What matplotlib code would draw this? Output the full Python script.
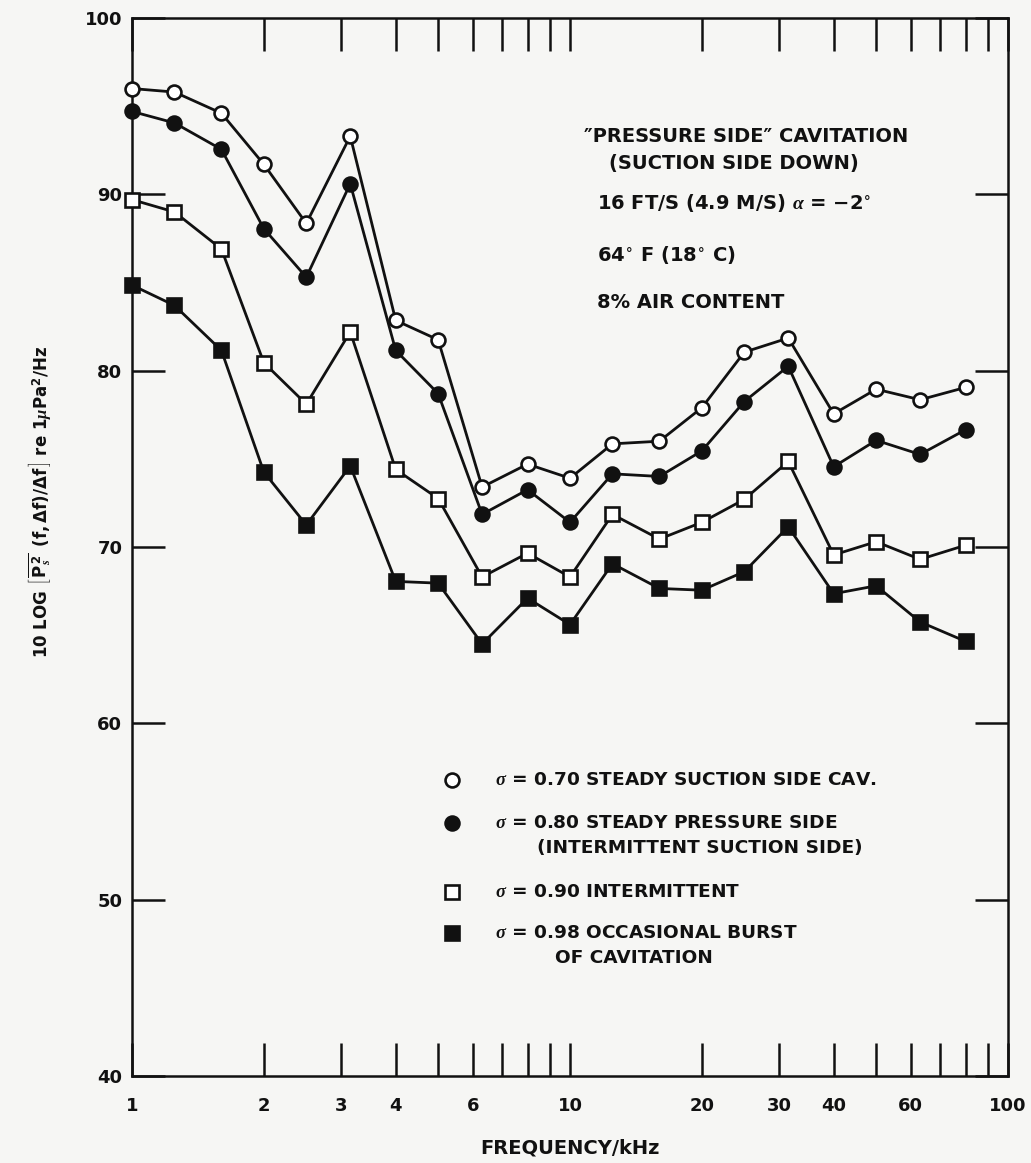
import matplotlib
matplotlib.use("Agg")
import matplotlib.pyplot as plt
from matplotlib.lines import Line2D
from matplotlib.ticker import FixedLocator, FixedFormatter, NullFormatter

# One-third-octave band centre frequencies (kHz)
freq_khz = [1, 1.25, 1.6, 2, 2.5, 3.15, 4, 5, 6.3, 8, 10, 12.5, 16, 20, 25,
            31.5, 40, 50, 63, 80]

# Spectrum level, dB re 1 uPa^2/Hz, for each cavitation number
sigma_070 = [96.0, 95.8, 94.6, 91.7, 88.35, 93.3, 82.85, 81.75, 73.4, 74.7,
             73.9, 75.85, 76.0, 77.9, 81.05, 81.85, 77.55, 78.95, 78.35, 79.05]
sigma_080 = [94.7, 94.05, 92.55, 88.05, 85.3, 90.6, 81.15, 78.7, 71.85, 73.25,
             71.4, 74.15, 74.0, 75.45, 78.25, 80.25, 74.55, 76.05, 75.25, 76.65]
sigma_090 = [89.7, 89.0, 86.9, 80.45, 78.1, 82.2, 74.4, 72.75, 68.3, 69.65,
             68.3, 71.85, 70.45, 71.4, 72.7, 74.85, 69.55, 70.3, 69.3, 70.1]
sigma_098 = [84.85, 83.7, 81.15, 74.25, 71.25, 74.6, 68.05, 67.95, 64.5, 67.1,
             65.6, 69.05, 67.65, 67.55, 68.6, 71.15, 67.35, 67.8, 65.75, 64.65]

legend_labels = [
    r"$\sigma$ = 0.70 STEADY SUCTION SIDE CAV.",
    r"$\sigma$ = 0.80 STEADY PRESSURE SIDE",
    r"$\sigma$ = 0.90 INTERMITTENT",
    r"$\sigma$ = 0.98 OCCASIONAL BURST",
]
legend_second_lines = ["", "(INTERMITTENT SUCTION SIDE)", "", "OF CAVITATION"]

x_major = [1, 2, 3, 4, 6, 10, 20, 30, 40, 60, 100]
x_major_labels = ["1", "2", "3", "4", "6", "10", "20", "30", "40", "60", "100"]
x_minor = [5, 7, 8, 9, 50, 70, 80, 90]
y_ticks = [40, 50, 60, 70, 80, 90, 100]

plt.rcParams["font.family"] = ["DejaVu Sans"]
plt.rcParams["font.weight"] = "bold"
plt.rcParams["mathtext.fontset"] = "custom"
plt.rcParams["mathtext.rm"] = "DejaVu Sans:bold"
plt.rcParams["mathtext.bf"] = "DejaVu Sans:bold"
plt.rcParams["mathtext.it"] = "Liberation Serif:italic"
plt.rcParams["mathtext.sf"] = "DejaVu Sans:bold"

FS_TICK = 13
FS_NOTE = 14
FS_KEY = 13.3
W, H = 1031, 1163
BG = "#f6f6f4"
INK = "#111111"
fig = plt.figure(figsize=(W / 100, H / 100), dpi=100, facecolor=BG)


def fx(px):
    return px / W


def fy(py):
    return 1 - py / H


ax = fig.add_axes([fx(132), fy(1076), fx(1008) - fx(132), fy(18) - fy(1076)])
ax.set_facecolor(BG)
ax.set_xscale("log")
ax.set_xlim(1, 100)
ax.set_ylim(40, 100)

styles = [
    (sigma_070, "o", "white", 10),
    (sigma_080, "o", INK, 10),
    (sigma_090, "s", "white", 10.5),
    (sigma_098, "s", INK, 10.5),
]
for vals, mk, face, ms in styles:
    ax.plot(freq_khz, vals, "-", color=INK, lw=2.0, marker=mk, ms=ms,
            mfc=face, mec=INK, mew=1.9, clip_on=False, zorder=3)

for sp in ax.spines.values():
    sp.set_linewidth(1.8)
    sp.set_color(INK)

ax.xaxis.set_major_locator(FixedLocator(x_major))
ax.xaxis.set_major_formatter(FixedFormatter(x_major_labels))
ax.xaxis.set_minor_locator(FixedLocator(x_minor))
ax.xaxis.set_minor_formatter(NullFormatter())
ax.set_yticks(y_ticks)
ax.set_yticklabels([str(v) for v in y_ticks])

ax.tick_params(axis="x", which="both", direction="in", length=24, width=1.8,
               top=True, bottom=True, color=INK)
ax.tick_params(axis="x", which="major", pad=15, labelsize=FS_TICK,
               labelcolor=INK)
ax.tick_params(axis="y", which="major", direction="in", length=24, width=1.8,
               left=True, right=True, pad=7, labelsize=FS_TICK,
               labelcolor=INK, color=INK)

# Frequency axis title
fig.text(fx(570), fy(1148), "FREQUENCY/kHz", ha="center", va="center",
         fontsize=FS_NOTE, color=INK)

# Spectrum level axis title
ylab = (r"10 LOG $\left[\,\overline{\mathrm{P}_{s}^{\,2}}\ \ "
        r"(\mathrm{f},\Delta\mathrm{f})/\Delta\mathrm{f}\,\right]$"
        r" re 1$\mu$Pa$^{2}$/Hz")
fig.text(fx(40), fy(502), ylab, rotation=90, ha="center", va="center",
         fontsize=12, color=INK)

# Test conditions
fig.text(fx(746), fy(137), "\u2033PRESSURE SIDE\u2033 CAVITATION",
         ha="center", va="center", fontsize=FS_NOTE, color=INK)
fig.text(fx(734), fy(163), "(SUCTION SIDE DOWN)", ha="center", va="center",
         fontsize=FS_NOTE, color=INK)
fig.text(fx(597), fy(203), r"16 FT/S (4.9 M/S) $\alpha$ = $-$2$^{\circ}$",
         ha="left", va="center", fontsize=FS_NOTE, color=INK)
fig.text(fx(597), fy(255), r"64$^{\circ}$ F (18$^{\circ}$ C)",
         ha="left", va="center", fontsize=FS_NOTE, color=INK)
fig.text(fx(597), fy(302), "8% AIR CONTENT", ha="left", va="center",
         fontsize=FS_NOTE, color=INK)

# Key
key_rows = [780, 823, 892, 933]
key_markers = [("o", "white", 10), ("o", INK, 10), ("s", "white", 10.5),
               ("s", INK, 10.5)]
second_x = [0, 537, 0, 555]
for row_y, (mk, face, ms), lab, second, sx in zip(key_rows, key_markers,
                                                    legend_labels,
                                                    legend_second_lines,
                                                    second_x):
    fig.add_artist(Line2D([fx(452)], [fy(row_y)], transform=fig.transFigure,
                          marker=mk, ms=ms, mfc=face, mec=INK, mew=1.9,
                          ls="none"))
    fig.text(fx(495), fy(row_y), lab, ha="left", va="center",
             fontsize=FS_KEY, color=INK)
    if second:
        fig.text(fx(sx), fy(row_y + 25), second, ha="left", va="center",
                 fontsize=FS_KEY, color=INK)

fig.savefig("out.png", dpi=100, facecolor=BG)
